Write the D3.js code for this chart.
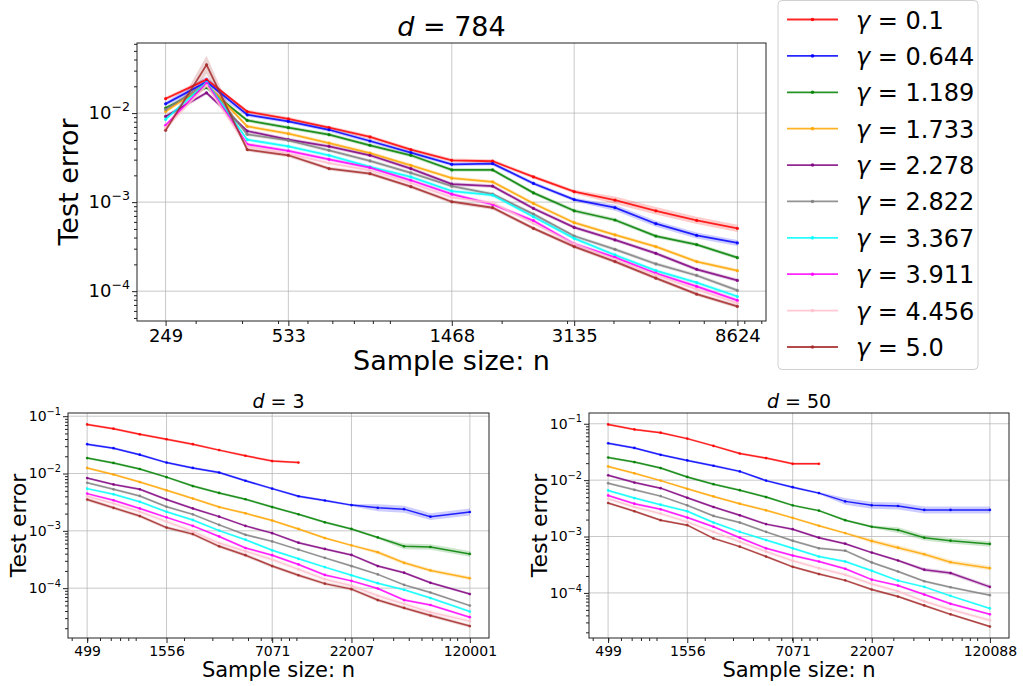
<!DOCTYPE html>
<html>
<head>
<meta charset="utf-8">
<script src="https://cdn.jsdelivr.net/npm/d3@7"></script>
<style>
  body { margin: 0; background: #fff; }
  text { font-family: 'DejaVu Sans', sans-serif; fill: #000; }
</style>
</head>
<body>
<svg id="fig" width="1023" height="686"></svg>
<script>
// series labels and colours (matplotlib named colours)
const gammas = ['0.1', '0.644', '1.189', '1.733', '2.278', '2.822', '3.367', '3.911', '4.456', '5.0'];
const colors = ['red', 'blue', 'green', 'orange', 'purple', 'gray', 'cyan', 'magenta', 'pink', 'brown'];

// sample sizes
const nD784 = [249, 321, 413, 533, 686, 884, 1139, 1468, 1891, 2436, 3135, 4038, 5202, 6700, 8624];
const nD3 = [499, 728, 1061, 1556, 2268, 3307, 4822, 7071, 10310, 15033, 22007, 32088, 46786, 68217, 120001];
const nD50 = [499, 728, 1061, 1556, 2268, 3307, 4822, 7071, 10310, 15033, 22007, 32088, 46786, 68217, 120088];

// labelled x ticks
const ticksD784 = [249, 533, 1468, 3135, 8624];
const ticksD3 = [499, 1556, 7071, 22007, 120001];
const ticksD50 = [499, 1556, 7071, 22007, 120088];

// test error, one row per gamma
const errD784 = [
  [0.0145, 0.0238, 0.0104, 0.0086, 0.00685, 0.00539, 0.00389, 0.00295, 0.00288, 0.00192, 0.00131, 0.00105, 0.0008, 0.000623, 0.000507],
  [0.0127, 0.0224, 0.00958, 0.00807, 0.0065, 0.00486, 0.0036, 0.00266, 0.00271, 0.00162, 0.00107, 0.000865, 0.000572, 0.000423, 0.000348],
  [0.0114, 0.0194, 0.00828, 0.00685, 0.00572, 0.00435, 0.00336, 0.0023, 0.0023, 0.00127, 0.0008, 0.00063, 0.000416, 0.000333, 0.000238],
  [0.0104, 0.0214, 0.0071, 0.00587, 0.00461, 0.00356, 0.00259, 0.00186, 0.00169, 0.000966, 0.000587, 0.000428, 0.000316, 0.000215, 0.00017],
  [0.00918, 0.0169, 0.00629, 0.00503, 0.00423, 0.00336, 0.00238, 0.00159, 0.00151, 0.000849, 0.00052, 0.000376, 0.000266, 0.000176, 0.000132],
  [0.011, 0.0217, 0.00577, 0.00494, 0.00382, 0.0029, 0.00213, 0.00151, 0.00123, 0.000734, 0.000416, 0.000295, 0.000202, 0.00015, 0.000102],
  [0.0085, 0.0222, 0.00503, 0.00423, 0.00336, 0.00249, 0.00192, 0.00133, 0.0012, 0.000686, 0.000392, 0.000255, 0.00017, 0.000125, 0.0000871],
  [0.00728, 0.0217, 0.00446, 0.00376, 0.00303, 0.00244, 0.00176, 0.00123, 0.000942, 0.000618, 0.000339, 0.00024, 0.000159, 0.000113, 0.0000787],
  [0.00685, 0.0204, 0.00423, 0.00351, 0.00275, 0.00228, 0.00164, 0.00113, 0.000984, 0.000577, 0.000339, 0.000228, 0.000152, 0.000105, 0.0000735],
  [0.0064, 0.0348, 0.00389, 0.00336, 0.00238, 0.00209, 0.00149, 0.00101, 0.000865, 0.000507, 0.000316, 0.000215, 0.00014, 0.0000925, 0.0000673]
];

const errD3 = [
  [0.0718, 0.0605, 0.0483, 0.0396, 0.0325, 0.0256, 0.0204, 0.0165, 0.0155],
  [0.0325, 0.0277, 0.0213, 0.0155, 0.0125, 0.0104, 0.00748, 0.00545, 0.00401, 0.00338, 0.00281, 0.00252, 0.00239, 0.00177, 0.00213],
  [0.0186, 0.0153, 0.012, 0.00865, 0.00605, 0.00458, 0.00356, 0.0026, 0.00194, 0.00141, 0.00108, 0.000767, 0.000537, 0.000523, 0.000396],
  [0.0125, 0.00962, 0.0071, 0.00509, 0.00366, 0.0026, 0.00202, 0.00151, 0.00108, 0.000748, 0.000558, 0.000423, 0.000277, 0.000204, 0.000149],
  [0.00832, 0.00646, 0.0053, 0.00352, 0.00246, 0.00177, 0.00122, 0.000912, 0.000621, 0.000483, 0.00038, 0.000243, 0.000186, 0.000124, 0.0000789],
  [0.0069, 0.0053, 0.00406, 0.00263, 0.00194, 0.00127, 0.000853, 0.000655, 0.00047, 0.000338, 0.000243, 0.000174, 0.000114, 0.0000841, 0.0000496],
  [0.00545, 0.00435, 0.00321, 0.00215, 0.00155, 0.00101, 0.0007, 0.000458, 0.000325, 0.000233, 0.000168, 0.000122, 0.0000935, 0.0000673, 0.0000391],
  [0.00446, 0.00342, 0.00246, 0.00172, 0.00122, 0.000798, 0.000502, 0.000376, 0.000259, 0.00017, 0.000134, 0.0000986, 0.0000621, 0.0000509, 0.0000312],
  [0.004, 0.003, 0.00215, 0.00145, 0.000975, 0.000612, 0.00044, 0.000316, 0.000213, 0.000143, 0.00011, 0.0000738, 0.000053, 0.000038, 0.0000266],
  [0.00352, 0.00252, 0.00181, 0.00114, 0.000877, 0.000537, 0.000376, 0.000243, 0.000168, 0.00012, 0.0000962, 0.0000621, 0.0000452, 0.0000333, 0.0000218]
];

const errD50 = [
  [0.0973, 0.0794, 0.0695, 0.0545, 0.0405, 0.0297, 0.0246, 0.0195, 0.0195],
  [0.0451, 0.0373, 0.0281, 0.0224, 0.018, 0.0143, 0.00981, 0.0075, 0.00589, 0.0042, 0.00357, 0.00348, 0.00296, 0.00296, 0.00296],
  [0.0252, 0.0209, 0.0164, 0.0114, 0.00848, 0.00664, 0.00501, 0.00357, 0.00288, 0.00195, 0.00149, 0.0013, 0.000953, 0.000844, 0.000738],
  [0.0175, 0.0132, 0.00981, 0.00701, 0.00514, 0.00382, 0.00292, 0.00214, 0.00155, 0.00115, 0.000832, 0.000635, 0.000485, 0.000351, 0.000275],
  [0.0122, 0.00906, 0.00721, 0.00487, 0.00334, 0.00238, 0.00166, 0.00135, 0.000953, 0.000746, 0.000519, 0.000376, 0.000258, 0.000225, 0.000128],
  [0.00883, 0.00674, 0.00521, 0.00357, 0.00232, 0.00177, 0.00121, 0.000844, 0.000618, 0.000562, 0.000347, 0.00024, 0.000161, 0.000126, 0.0000912],
  [0.00656, 0.00481, 0.00367, 0.00281, 0.00177, 0.00121, 0.000867, 0.000618, 0.000442, 0.000361, 0.000247, 0.000165, 0.000128, 0.0000887, 0.0000531],
  [0.00536, 0.00382, 0.00304, 0.00217, 0.00149, 0.000953, 0.000618, 0.00046, 0.000361, 0.000268, 0.000172, 0.000135, 0.0000935, 0.0000641, 0.0000417],
  [0.00468, 0.00334, 0.00255, 0.00182, 0.00121, 0.00081, 0.000541, 0.000371, 0.000275, 0.00021, 0.000144, 0.000107, 0.0000714, 0.000051, 0.0000327],
  [0.00393, 0.00281, 0.00195, 0.00159, 0.000927, 0.000662, 0.000442, 0.00029, 0.000216, 0.000167, 0.000115, 0.0000863, 0.00006, 0.0000417, 0.0000253]
];

// relative half-width of the shaded band: [series, fromPoint, toPoint, width]
const bandD784 = [[9, 1, 1, 0.27], [1, 1, 1, 0.15], [0, 11, 14, 0.1], [1, 11, 14, 0.08]];
const bandD3 = [[1, 11, 14, 0.15], [2, 12, 14, 0.12], [3, 11, 14, 0.08], [8, 0, 14, 0.1], [9, 0, 14, 0.07]];
const bandD50 = [[1, 9, 14, 0.15], [2, 11, 14, 0.12], [3, 10, 14, 0.1], [4, 12, 14, 0.08], [8, 0, 14, 0.08]];

const fig = d3.select('#fig');

// matplotlib-like 5% margin on a log axis
function padLog(ext, f) {
  const a = Math.log10(ext[0]), b = Math.log10(ext[1]), p = (b - a) * f;
  return [Math.pow(10, a - p), Math.pow(10, b + p)];
}

function minorTicks(dom, majors) {
  const out = [];
  for (let k = Math.floor(Math.log10(dom[0])); k <= Math.ceil(Math.log10(dom[1])); k++) {
    for (let m = 1; m <= 9; m++) {
      const v = m * Math.pow(10, k);
      if (v >= dom[0] && v <= dom[1] && !majors.some(t => Math.abs(t - v) / v < 1e-6)) out.push(v);
    }
  }
  return out;
}

function panel(o) {
  const spread = (s, i) => {
    let r = 0.05;
    o.bands.forEach(b => { if (b[0] === s && i >= b[1] && i <= b[2]) r = b[3]; });
    return r;
  };

  // series as {s, pts:[{n,v,lo,hi}]}
  const series = o.err.map((row, s) => ({
    s: s,
    pts: row.map((v, i) => ({ n: o.n[i], v: v, lo: v / (1 + spread(s, i)), hi: v * (1 + spread(s, i)) }))
  }));
  const allPts = series.flatMap(d => d.pts);

  const x = d3.scaleLog().domain(padLog(d3.extent(o.n), 0.05)).range([o.left, o.right]);
  const y = d3.scaleLog()
    .domain(padLog([d3.min(allPts, d => d.lo), d3.max(allPts, d => d.hi)], 0.05))
    .range([o.bottom, o.top]);

  const yDom = y.domain();
  const decades = d3.range(Math.ceil(Math.log10(yDom[0])), Math.floor(Math.log10(yDom[1])) + 1).map(k => Math.pow(10, k));

  const g = fig.append('g');

  // grid
  g.selectAll('.vgrid').data(o.ticks).join('line')
    .attr('x1', d => x(d)).attr('x2', d => x(d))
    .attr('y1', o.top).attr('y2', o.bottom)
    .attr('stroke', '#b0b0b0').attr('stroke-opacity', 0.7).attr('stroke-width', 1);
  g.selectAll('.hgrid').data(decades).join('line')
    .attr('x1', o.left).attr('x2', o.right)
    .attr('y1', d => y(d)).attr('y2', d => y(d))
    .attr('stroke', '#b0b0b0').attr('stroke-opacity', 0.7).attr('stroke-width', 1);

  // bands
  const area = d3.area().x(d => x(d.n)).y0(d => y(d.lo)).y1(d => y(d.hi));
  const line = d3.line().x(d => x(d.n)).y(d => y(d.v));
  series.forEach(sr => {
    g.append('path').attr('d', area(sr.pts))
      .attr('fill', colors[sr.s]).attr('fill-opacity', 0.2);
  });
  series.forEach(sr => {
    g.append('path').attr('d', line(sr.pts))
      .attr('fill', 'none').attr('stroke', colors[sr.s])
      .attr('stroke-width', o.lw).attr('stroke-opacity', 0.85);
    g.selectAll(null).data(sr.pts).join('circle')
      .attr('cx', d => x(d.n)).attr('cy', d => y(d.v)).attr('r', o.lw * 0.9)
      .attr('fill', colors[sr.s]).attr('fill-opacity', 0.85);
  });

  // frame
  g.append('rect')
    .attr('x', o.left).attr('y', o.top)
    .attr('width', o.right - o.left).attr('height', o.bottom - o.top)
    .attr('fill', 'none').attr('stroke', '#222').attr('stroke-width', 1);

  // x axis
  const xMajor = g.append('g').attr('transform', `translate(0,${o.bottom})`)
    .call(d3.axisBottom(x).tickValues(o.ticks).tickSize(5).tickPadding(3).tickFormat(d3.format('d')));
  const xMinor = g.append('g').attr('transform', `translate(0,${o.bottom})`)
    .call(d3.axisBottom(x).tickValues(minorTicks(x.domain(), o.ticks)).tickSize(3).tickFormat(''));
  // y axis
  const yMajor = g.append('g').attr('transform', `translate(${o.left},0)`)
    .call(d3.axisLeft(y).tickValues(decades).tickSize(5).tickFormat(''));
  const yMinor = g.append('g').attr('transform', `translate(${o.left},0)`)
    .call(d3.axisLeft(y).tickValues(minorTicks(y.domain(), decades)).tickSize(3).tickFormat(''));
  [xMajor, xMinor, yMajor, yMinor].forEach(a => {
    a.select('.domain').remove();
    a.selectAll('line').attr('stroke', '#222');
  });
  xMajor.selectAll('text')
    .attr('font-family', 'DejaVu Sans, sans-serif').attr('font-size', o.tickFont).attr('fill', '#000');

  // y tick labels as 10^k
  decades.forEach(d => {
    const t = g.append('text')
      .attr('x', o.left - 7).attr('y', y(d) + o.tickFont * 0.35)
      .attr('text-anchor', 'end').attr('font-size', o.tickFont);
    t.append('tspan').text('10');
    t.append('tspan').attr('dy', -o.tickFont * 0.45).attr('font-size', o.tickFont * 0.7)
      .text('\u2212' + Math.round(-Math.log10(d)));
  });

  // title
  const ttl = g.append('text')
    .attr('x', (o.left + o.right) / 2).attr('y', o.top - o.titleGap)
    .attr('text-anchor', 'middle').attr('font-size', o.titleFont);
  ttl.append('tspan').attr('font-style', 'italic').text('d');
  ttl.append('tspan').text(' = ' + o.title);

  // axis labels
  g.append('text')
    .attr('x', (o.left + o.right) / 2).attr('y', o.bottom + o.xLabelGap)
    .attr('text-anchor', 'middle').attr('font-size', o.labelFont)
    .text('Sample size: n');
  g.append('text')
    .attr('transform', `translate(${o.yLabelX},${(o.top + o.bottom) / 2}) rotate(-90)`)
    .attr('text-anchor', 'middle').attr('font-size', o.yLabelFont || o.labelFont)
    .text('Test error');
}

panel({
  n: nD784, err: errD784, ticks: ticksD784, bands: bandD784, title: '784',
  left: 137, right: 766, top: 43, bottom: 321,
  lw: 1.8, tickFont: 18, titleFont: 27, titleGap: 7, labelFont: 27, xLabelGap: 49, yLabelX: 78
});
panel({
  n: nD3, err: errD3, ticks: ticksD3, bands: bandD3, title: '3',
  left: 68, right: 489, top: 413, bottom: 638,
  lw: 1.5, tickFont: 14, titleFont: 19, titleGap: 5, labelFont: 21, yLabelFont: 22, xLabelGap: 39, yLabelX: 26
});
panel({
  n: nD50, err: errD50, ticks: ticksD50, bands: bandD50, title: '50',
  left: 589, right: 1009, top: 413, bottom: 638,
  lw: 1.5, tickFont: 14, titleFont: 19, titleGap: 5, labelFont: 21, yLabelFont: 22, xLabelGap: 39, yLabelX: 547
});

// legend for the whole figure
const leg = fig.append('g');
leg.append('rect')
  .attr('x', 778).attr('y', 0.5).attr('width', 200).attr('height', 369).attr('rx', 4)
  .attr('fill', '#fff').attr('fill-opacity', 0.8).attr('stroke', '#d0d0d0');
const legY = d3.scalePoint().domain(gammas).range([19.5, 347]);
gammas.forEach((gm, i) => {
  const yy = legY(gm);
  leg.append('line')
    .attr('x1', 787).attr('x2', 838).attr('y1', yy).attr('y2', yy)
    .attr('stroke', colors[i]).attr('stroke-width', 1.8).attr('stroke-opacity', 0.85);
  leg.append('circle').attr('cx', 812.5).attr('cy', yy).attr('r', 1.8)
    .attr('fill', colors[i]).attr('fill-opacity', 0.85);
  const t = leg.append('text').attr('x', 856).attr('y', yy + 9).attr('font-size', 24);
  t.append('tspan').attr('font-style', 'italic').text('\u03b3');
  t.append('tspan').text(' = ' + gm);
});
</script>
</body>
</html>
